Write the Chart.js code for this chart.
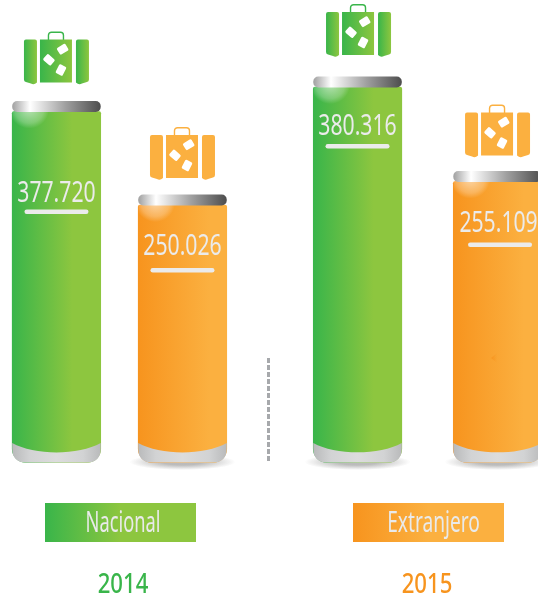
<!DOCTYPE html>
<html><head><meta charset="utf-8">
<style>html,body{margin:0;padding:0;background:#fff;overflow:hidden}#w{position:relative;width:538px;height:599px}</style>
<script src="https://cdn.jsdelivr.net/npm/chart.js@4/dist/chart.umd.min.js"></script>
</head><body><div id="w"><canvas id="c" width="538" height="599"></canvas></div>
<script>
const categories = ['Nacional', 'Extranjero'];
const years = ['2014', '2015'];
const values2014 = [377720, 250026];
const values2015 = [380316, 255109];
const valueLabels2014 = ['377.720', '250.026'];
const valueLabels2015 = ['380.316', '255.109'];
const slots2014 = [0, 1];
const slots2015 = [2.389, 3.5];
const GREEN = ['#39b54a', '#8dc63f'], ORANGE = ['#f7941e', '#fbb040'];
const AXIS2014 = {min: -288050, max: 530000, base: -101636};
const AXIS2015 = {min: -298033, max: 495582, base: -117184};
const labelDrop = [90, 50, 48, 50];
const underlineGap = [8, 13, 9, 11];
const iconLift = [27, 25, 30, 24];
const iconShift = [0, 0, 1, 0];
const BAR_W = 88.5;

function barFill(slots) {
  return c => {
    const g = c.dataIndex === 0 ? GREEN : ORANGE;
    const px = c.chart.scales.x.getPixelForValue(slots[c.dataIndex]);
    if (!isFinite(px)) return g[1];
    const lg = c.chart.ctx.createLinearGradient(px - BAR_W/2, 0, px + BAR_W/2, 0);
    lg.addColorStop(0, g[0]); lg.addColorStop(c.dataIndex === 0 ? .68 : .8, g[1]); lg.addColorStop(1, g[1]);
    return lg;
  };
}
function toPoints(slots, vals) { return vals.map((v, i) => ({x: slots[i], y: v})); }

function rr(ctx, x, y, w, h, r) { ctx.beginPath(); ctx.roundRect(x, y, w, h, r); }
function squeezed(ctx, txt, cx, y, font, sx, color) {
  ctx.save(); ctx.font = font; ctx.fillStyle = color; ctx.textAlign = 'center'; ctx.textBaseline = 'alphabetic';
  ctx.translate(cx, y); ctx.scale(sx, 1); ctx.fillText(txt, 0, 0); ctx.restore();
}
function suitcase(ctx, x, y, pal) {
  ctx.save(); ctx.translate(x, y);
  const grad = (a, b) => { const g = ctx.createLinearGradient(a, 0, b, 0); g.addColorStop(0, pal[0]); g.addColorStop(1, pal[1]); return g; };
  const flat = pal === ORANGE;
  const fill = (a, b) => flat ? pal[1] : grad(a, b);
  ctx.strokeStyle = flat ? pal[1] : pal[0]; ctx.lineWidth = 1.4;
  rr(ctx, 24.5, .7, 15, 9, [3, 3, 0, 0]); ctx.stroke();
  ctx.fillStyle = fill(0, 13);
  ctx.beginPath(); ctx.moveTo(2, 8); ctx.lineTo(11, 8); ctx.quadraticCurveTo(13, 8, 13, 10); ctx.lineTo(13, 51);
  ctx.quadraticCurveTo(10, 54, 7, 52); ctx.lineTo(2, 50.5); ctx.quadraticCurveTo(0, 50, 0, 48); ctx.lineTo(0, 10); ctx.quadraticCurveTo(0, 8, 2, 8); ctx.fill();
  ctx.fillStyle = fill(16, 48); ctx.fillRect(16, 8, 32, 43);
  ctx.fillStyle = fill(52, 65);
  ctx.beginPath(); ctx.moveTo(54, 8); ctx.lineTo(63, 8); ctx.quadraticCurveTo(65, 8, 65, 10); ctx.lineTo(65, 48); ctx.quadraticCurveTo(65, 50, 63, 50.5);
  ctx.lineTo(58, 52); ctx.quadraticCurveTo(55, 54, 52, 51); ctx.lineTo(52, 10); ctx.quadraticCurveTo(52, 8, 54, 8); ctx.fill();
  ctx.fillStyle = '#fff';
  [[38.7, 17.7, -.55], [25, 28.3, .72], [37, 38.5, -1.1]].forEach(([a, b, r]) => {
    ctx.save(); ctx.translate(a, b); ctx.rotate(r);
    rr(ctx, -5, -3.9, 10, 7.8, 1.5); ctx.fill(); ctx.restore();
  });
  ctx.restore();
}
function eachBar(chart, fn) {
  [[0, valueLabels2014, 0], [1, valueLabels2015, 2]].forEach(([ds, labs, off]) => {
    chart.getDatasetMeta(ds).data.forEach((el, i) => fn(el, i, off + i, labs[i]));
  });
}
const decor = {
  id: 'decor',
  beforeDatasetsDraw(chart) {
    const ctx = chart.ctx;
    eachBar(chart, (el, i, n) => {
      if (n === 0) return;
      ctx.save(); ctx.translate(el.x, 462); ctx.scale(1, 8 / 53);
      const g = ctx.createRadialGradient(0, 0, 20, 0, 0, 53);
      g.addColorStop(0, 'rgba(120,120,120,.5)'); g.addColorStop(1, 'rgba(120,120,120,0)');
      ctx.fillStyle = g; ctx.beginPath(); ctx.arc(0, 0, 53, 0, Math.PI*2); ctx.fill(); ctx.restore();
    });
  },
  afterDatasetsDraw(chart) {
    const ctx = chart.ctx;
    ctx.save(); ctx.strokeStyle = '#a7a9ac'; ctx.lineWidth = 3; ctx.setLineDash([5, 2]);
    ctx.beginPath(); ctx.moveTo(268.5, 358); ctx.lineTo(268.5, 462); ctx.stroke(); ctx.restore();
    eachBar(chart, (el, i, n, lab) => {
      const x0 = el.x - BAR_W/2, x1 = el.x + BAR_W/2, top = el.y, bot = el.base;
      const pal = i === 0 ? GREEN : ORANGE;
      ctx.save(); ctx.beginPath(); ctx.rect(x0, top, BAR_W, 60); ctx.clip();
      const gl = ctx.createRadialGradient(x0 + 17, top - 3, 2, x0 + 17, top - 3, 20);
      gl.addColorStop(0, 'rgba(255,255,255,.55)'); gl.addColorStop(.7, 'rgba(255,255,255,.25)'); gl.addColorStop(1, 'rgba(255,255,255,0)');
      ctx.fillStyle = gl; ctx.fillRect(x0, top, BAR_W, 40); ctx.restore();
      const cg = ctx.createLinearGradient(x0, 0, x1, 0);
      cg.addColorStop(0, '#a0a0a0'); cg.addColorStop(.2, '#ffffff'); cg.addColorStop(.6, '#a0a0a0'); cg.addColorStop(1, '#4d4d4d');
      ctx.fillStyle = cg; rr(ctx, x0, top - 10.5, BAR_W, 11, 5); ctx.fill();
      const bg = ctx.createLinearGradient(x0, 0, x1, 0);
      bg.addColorStop(0, '#b9babb'); bg.addColorStop(.2, '#d2d3d4'); bg.addColorStop(.5, '#dcdcdc'); bg.addColorStop(.8, '#d2d3d4'); bg.addColorStop(1, '#b9babb');
      ctx.fillStyle = bg; ctx.beginPath();
      ctx.moveTo(x0, bot - 19.5); ctx.bezierCurveTo(x0 + 22, bot - 7, x1 - 22, bot - 7, x1, bot - 19.5);
      ctx.lineTo(x1, bot - 14); ctx.quadraticCurveTo(x1, bot, x1 - 14, bot); ctx.lineTo(x0 + 14, bot); ctx.quadraticCurveTo(x0, bot, x0, bot - 14); ctx.closePath(); ctx.fill();
      const cx = n === 3 ? el.x + 1 : el.x;
      squeezed(ctx, lab, cx, top + labelDrop[n], '29px "Noto Sans"', .73, '#ebebeb');
      ctx.fillStyle = '#ebebeb'; rr(ctx, (n === 3 ? el.x + 2.5 : el.x) - 32, top + labelDrop[n] + underlineGap[n], 64, 4.5, 2.2); ctx.fill();
      suitcase(ctx, el.x - 32.5 + iconShift[n], top - iconLift[n] - 53, pal);
      if (n === 3) {
        const sx = el.x - 6.5, sy = 358;
        const tg = ctx.createLinearGradient(sx, 0, sx + 6, 0);
        tg.addColorStop(0, 'rgba(247,148,30,.9)'); tg.addColorStop(1, 'rgba(247,148,30,0)');
        ctx.fillStyle = tg; ctx.beginPath(); ctx.moveTo(sx, sy); ctx.lineTo(sx + 6, sy - 5); ctx.lineTo(sx + 6, sy + 5); ctx.closePath(); ctx.fill();
      }
    });
    [[45, GREEN, 123], [353, ORANGE, 433.5]].forEach(([x, pal, cx], i) => {
      const g = ctx.createLinearGradient(x, 0, x + 151, 0);
      g.addColorStop(0, pal[0]); g.addColorStop(.5, pal[1]); g.addColorStop(1, pal[1]);
      ctx.fillStyle = g; ctx.fillRect(x, 503, 151, 39);
      squeezed(ctx, categories[i], cx, 532, '29px "Noto Sans"', i === 0 ? .63 : .66, '#e9eaea');
    });
    squeezed(ctx, years[0], 123, 592.5, '500 27px "Noto Sans"', .82, GREEN[0]);
    squeezed(ctx, years[1], 427, 592.5, '500 27px "Noto Sans"', .82, ORANGE[0]);
  }
};
new Chart(document.getElementById('c'), {
  type: 'bar',
  data: { datasets: [
    {label: years[0], data: toPoints(slots2014, values2014), yAxisID: 'y2014', base: AXIS2014.base, backgroundColor: barFill(slots2014)},
    {label: years[1], data: toPoints(slots2015, values2015), yAxisID: 'y2015', base: AXIS2015.base, backgroundColor: barFill(slots2015)}
  ]},
  options: {
    responsive: false, animation: false,
    layout: {padding: 0},
    barThickness: BAR_W, grouped: false,
    elements: {bar: {borderWidth: 0, borderSkipped: false, borderRadius: {topLeft: 2, topRight: 2, bottomLeft: 14, bottomRight: 14}}},
    plugins: {legend: {display: false}, tooltip: {enabled: false}},
    scales: {
      x: {type: 'linear', display: false, offset: false, min: -0.448, max: 3.821},
      y2014: {type: 'linear', display: false, min: AXIS2014.min, max: AXIS2014.max},
      y2015: {type: 'linear', display: false, min: AXIS2015.min, max: AXIS2015.max}
    }
  },
  plugins: [decor]
});
</script></body></html>
